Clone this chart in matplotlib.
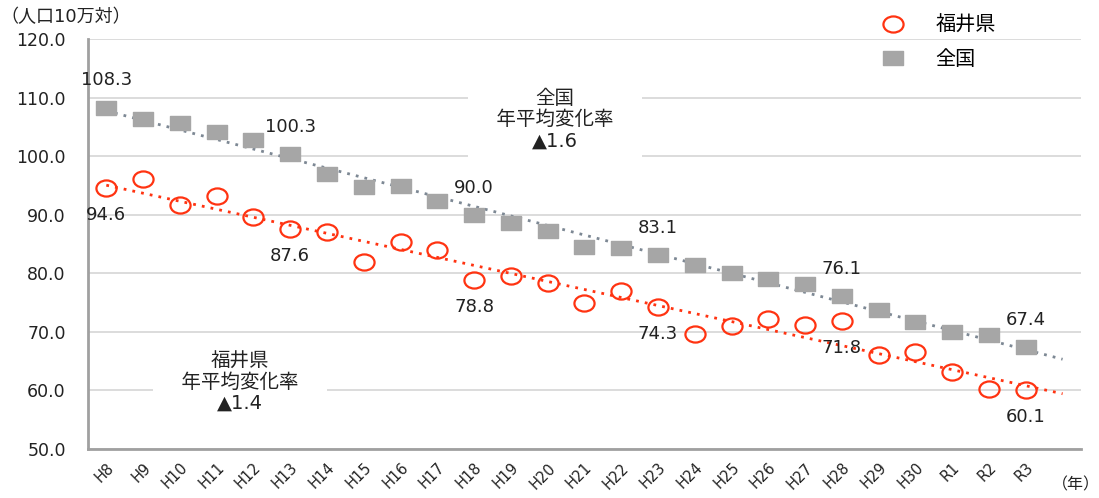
import numpy as np
import matplotlib
matplotlib.use('Agg')  # headless
import matplotlib.pyplot as plt
from matplotlib.path import Path
from matplotlib.transforms import Affine2D

plt.rcParams['font.family'] = ['DejaVu Sans', 'Noto Sans CJK JP']

years = ["H8", "H9", "H10", "H11", "H12", "H13", "H14", "H15", "H16", "H17",
         "H18", "H19", "H20", "H21", "H22", "H23", "H24", "H25", "H26", "H27",
         "H28", "H29", "H30", "R1", "R2", "R3"]
fukui = [94.6, 96.1, 91.7, 93.2, 89.6, 87.6, 87.0, 81.9, 85.4, 84.0,
         78.8, 79.5, 78.3, 74.9, 77.0, 74.3, 69.7, 71.0, 72.2, 71.2,
         71.8, 66.0, 66.6, 63.2, 60.2, 60.1]
zenkoku = [108.3, 106.3, 105.6, 104.2, 102.7, 100.3, 97.0, 94.8, 94.9, 92.4,
           90.0, 88.5, 87.2, 84.5, 84.3, 83.1, 81.4, 80.1, 79.0, 78.1,
           76.1, 73.7, 71.6, 70.0, 69.5, 67.4]
label_idx = [0, 5, 10, 15, 20, 25]
rate_fukui = "1.4"
rate_zenkoku = "1.6"

RED = "#ff3311"
GRAY_SQ = "#a6a6a6"
GRAY_TR = "#7d8894"
TXT = "#222222"

# slightly flattened markers like the original
ell = Path.unit_circle().transformed(Affine2D().scale(1, 0.8))
rect = Path.unit_rectangle().transformed(Affine2D().translate(-0.5, -0.5).scale(1, 0.7))

fig = plt.figure(figsize=(10.99, 4.98), dpi=100)
ax = fig.add_axes([0.080, 0.0984, 0.9036, 0.8233])

x = np.arange(len(years))

# trend lines (linear fit, forward 1 period)
xt = np.array([0, len(years)])
for vals, col in ((zenkoku, GRAY_TR), (fukui, RED)):
    k, b = np.polyfit(x, vals, 1)
    ax.plot(xt, k * xt + b, color=col, lw=2, ls=(0, (1, 2.2)), zorder=3)

ax.plot(x, zenkoku, ls='none', marker=rect, ms=14.5, mfc=GRAY_SQ, mec=GRAY_SQ,
        label="全国", zorder=4)
ax.plot(x, fukui, ls='none', marker=ell, ms=14.5, mfc='none', mec=RED, mew=1.6,
        label="福井県", zorder=4)

for i in label_idx:
    ax.annotate(f"{zenkoku[i]:.1f}", (x[i], zenkoku[i]), xytext=(0, 19.5),
                textcoords='offset points', ha='center', va='center', fontsize=13, color=TXT)
    ax.annotate(f"{fukui[i]:.1f}", (x[i], fukui[i]), xytext=(0, -19.5),
                textcoords='offset points', ha='center', va='center', fontsize=13, color=TXT)

# white boxes hide the gridlines behind the rate notes (wide, but short)
box = dict(boxstyle='square,pad=0.45', fc='white', ec='none')
ax.text(12.2, 106.2, "全国\n\u3000年平均変化率\u3000\n▲" + rate_zenkoku, ha='center', va='center',
        fontsize=14, linespacing=1.15, bbox=box, zorder=2, color=TXT)
ax.text(3.64, 61.4, "福井県\n\u3000年平均変化率\u3000\n▲" + rate_fukui, ha='center', va='center',
        fontsize=14, linespacing=1.15, bbox=box, zorder=2, color=TXT)

ax.set_xlim(-0.5, len(years) + 0.5)
ax.set_ylim(50, 120)
ax.set_yticks(np.arange(50, 121, 10))
ax.set_yticklabels([f"{v:.1f}" for v in np.arange(50, 121, 10)], fontsize=12.5, color=TXT)
ax.set_xticks(x)
ax.set_xticklabels(years, rotation=45, ha='right', rotation_mode='anchor', fontsize=10.5, color=TXT)
ax.tick_params(length=0, pad=8)
ax.tick_params(axis='y', pad=16)
ax.grid(axis='y', color='#d9d9d9', lw=1.3, zorder=0)
ax.set_axisbelow(True)
for s in ('top', 'right'):
    ax.spines[s].set_visible(False)
for s in ('left', 'bottom'):
    ax.spines[s].set_color('#a0a0a0')
    ax.spines[s].set_linewidth(2)

h, l = ax.get_legend_handles_labels()
ax.legend(h[::-1], l[::-1], loc='upper left', bbox_to_anchor=(0.785, 1.005),
          bbox_transform=fig.transFigure, frameon=False, fontsize=14.5,
          handlelength=1.2, handletextpad=1.5, labelspacing=0.75)

fig.text(0.0, 1 - 17 / 498, "（人口10万対）", fontsize=13, va='center', ha='left', color=TXT)
fig.text(0.957, 1 - 485 / 498, "（年）", fontsize=11.5, va='center', ha='left', color=TXT)

plt.savefig("out.png", dpi=100)
plt.close()
